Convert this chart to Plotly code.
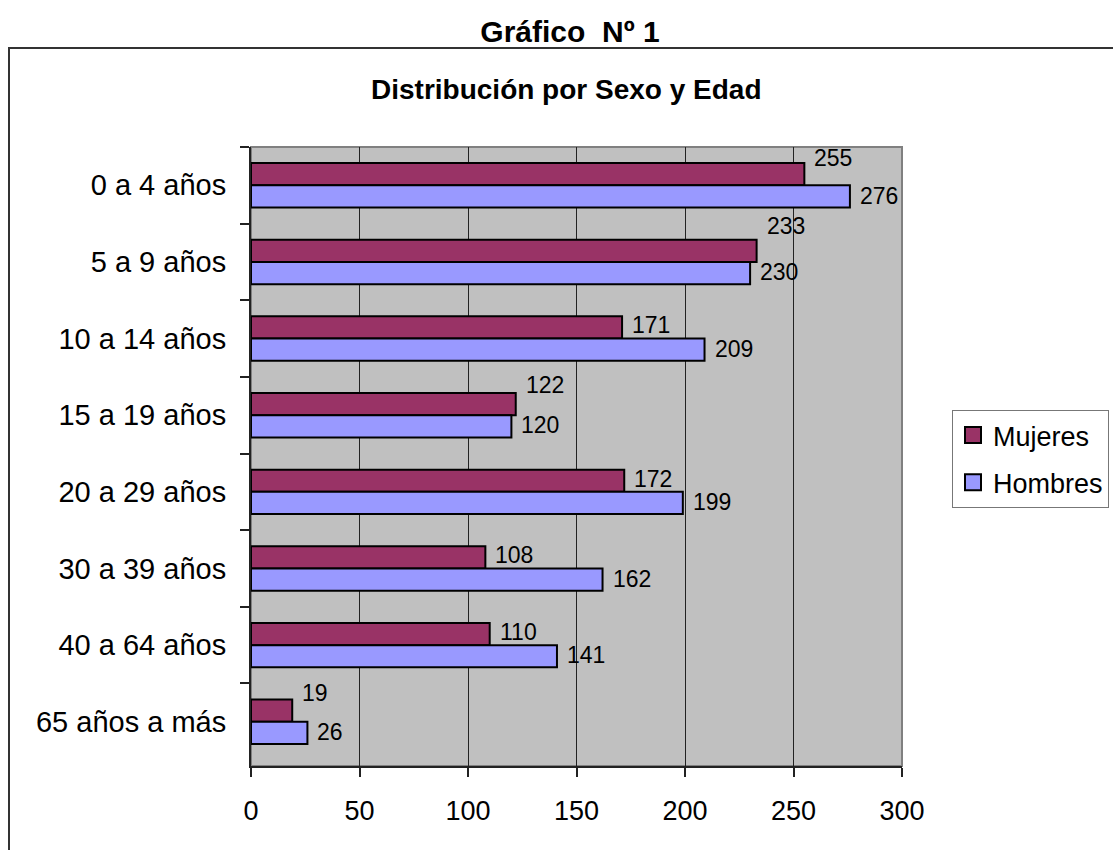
import plotly.graph_objects as go

# ---- data ----
categories = ["0 a 4 años", "5 a 9 años", "10 a 14 años", "15 a 19 años",
              "20 a 29 años", "30 a 39 años", "40 a 64 años", "65 años a más"]
mujeres = [255, 233, 171, 122, 172, 108, 110, 19]
hombres = [276, 230, 209, 120, 199, 162, 141, 26]
x_ticks = [0, 50, 100, 150, 200, 250, 300]

title_text = "Gráfico  Nº 1"
subtitle_text = "Distribución por Sexo y Edad"

# ---- style ----
FONT = "Liberation Sans, Arial, sans-serif"
COL_M = "#993366"
COL_H = "#9999FF"
# extra upward nudges of the Mujeres labels (px), as placed in the original
m_label_extra = [14, 23, 0, 17, 0, 0, 0, 16]

W, H = 1113, 850
L, R, T, B = 251, 902, 147, 766
pw, ph = R - L, B - T

def px_x(x):
    return (x - L) / pw

def px_y(y):
    return (B - y) / ph

fig = go.Figure()
fig.add_trace(go.Bar(y=categories, x=mujeres, orientation="h", name="Mujeres",
                     showlegend=False,
                     marker=dict(color=COL_M, line=dict(color="black", width=2))))
fig.add_trace(go.Bar(y=categories, x=hombres, orientation="h", name="Hombres",
                     showlegend=False,
                     marker=dict(color=COL_H, line=dict(color="black", width=2))))
# legend entries (larger square keys)
for nm, col in (("Mujeres", COL_M), ("Hombres", COL_H)):
    fig.add_trace(go.Scatter(x=[None], y=[None], mode="markers", name=nm,
                             legendgroup=nm,
                             marker=dict(symbol="square", size=20, color=col,
                                         line=dict(color="black", width=2))))

annotations = []
band = ph / len(categories)
bargap = 0.42
bar_h = band * (1 - bargap) / 2
for i, cat in enumerate(categories):
    annotations.append(dict(x=mujeres[i], y=cat, xref="x", yref="y", text=str(mujeres[i]),
                            showarrow=False, xanchor="left", yanchor="middle",
                            xshift=8, yshift=bar_h / 2 + 2 + m_label_extra[i],
                            font=dict(family=FONT, size=23, color="black")))
    annotations.append(dict(x=hombres[i], y=cat, xref="x", yref="y", text=str(hombres[i]),
                            showarrow=False, xanchor="left", yanchor="middle",
                            xshift=8, yshift=-bar_h / 2 + 1,
                            font=dict(family=FONT, size=23, color="black")))

annotations.append(dict(x=px_x(566), y=px_y(90), xref="paper", yref="paper",
                        text="<b>" + subtitle_text + "</b>", showarrow=False,
                        xanchor="center", yanchor="middle",
                        font=dict(family=FONT, size=28, color="black")))

shapes = [
    dict(type="rect", xref="paper", yref="paper", x0=0, x1=1, y0=0, y1=1,
         line=dict(color="#808080", width=2), fillcolor="#C0C0C0", layer="below"),
    dict(type="rect", xref="paper", yref="paper", x0=px_x(9), x1=px_x(1125),
         y0=px_y(870), y1=px_y(48), line=dict(color="#333333", width=2),
         fillcolor="rgba(0,0,0,0)", layer="below"),
]

fig.update_layout(
    width=W, height=H,
    margin=dict(l=L, r=W - R, t=T, b=H - B, autoexpand=False),
    paper_bgcolor="white", plot_bgcolor="#C0C0C0",
    barmode="group", bargap=bargap, bargroupgap=0,
    title=dict(text="<b>" + title_text + "</b>", x=570 / W, y=1 - 31 / H,
               xref="container", yref="container", xanchor="center", yanchor="middle",
               font=dict(family=FONT, size=30, color="black")),
    font=dict(family=FONT, color="black"),
    showlegend=True,
    legend=dict(x=px_x(952), y=px_y(410), xanchor="left", yanchor="top",
                xref="paper", yref="paper", bgcolor="white",
                bordercolor="#777777", borderwidth=1,
                font=dict(family=FONT, size=27, color="black"),
                traceorder="grouped", tracegroupgap=9, itemsizing="trace"),
    annotations=annotations,
    shapes=shapes,
)

fig.update_xaxes(range=[0, 300], tickvals=x_ticks, ticktext=[str(v) for v in x_ticks],
                 showgrid=True, gridcolor="#222222", gridwidth=1,
                 showline=True, linecolor="#222222", linewidth=2,
                 ticks="outside", ticklen=9, tickcolor="#222222", tickwidth=2,
                 ticklabelstandoff=11, zeroline=False,
                 tickfont=dict(family=FONT, size=27, color="black"))
fig.update_yaxes(autorange="reversed", type="category",
                 showgrid=False, showline=True, linecolor="#222222", linewidth=2,
                 ticks="outside", ticklen=9, tickcolor="#222222", tickwidth=2,
                 tickson="boundaries", ticklabelstandoff=17,
                 tickfont=dict(family=FONT, size=29, color="black"))

fig.write_html("out.html")
